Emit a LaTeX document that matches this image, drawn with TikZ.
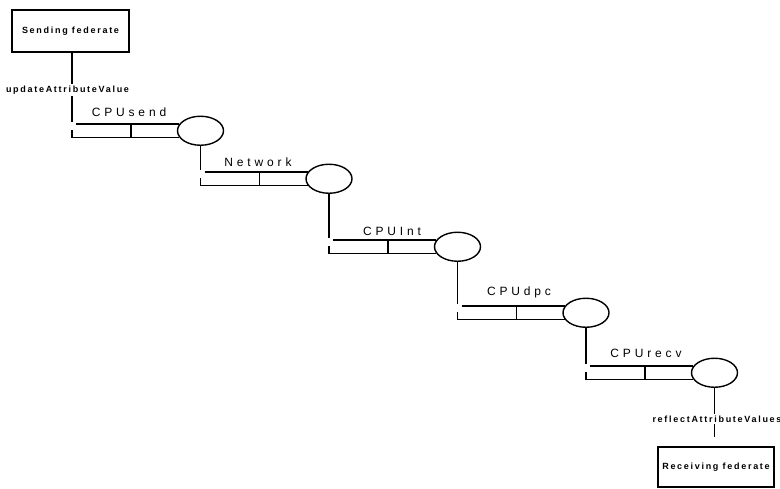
\documentclass[tikz,border=0pt]{standalone}
\usepackage{fontspec}
\setmainfont{Liberation Sans}
\newfontfamily\qlabfam[LetterSpace=32]{Liberation Sans}
\newfontfamily\smallfam[LetterSpace=19]{Liberation Sans}
\newcommand\myqfont{\qlabfam\fontsize{12}{14}\selectfont}
\newcommand\mysmallfont{\smallfam\bfseries\fontsize{9}{11}\selectfont}
\usetikzlibrary{shapes.geometric}
\begin{document}
\begin{tikzpicture}[x=1pt,y=-1pt,line width=1.4pt,
  server/.style={ellipse,draw,minimum width=46pt,minimum height=29pt,inner sep=0pt},
  fed/.style={draw,minimum width=117pt,minimum height=42pt,inner sep=0pt,font=\mysmallfont},
  qlabel/.style={font=\myqfont,inner sep=0pt},
  alabel/.style={font=\mysmallfont,fill=white,inner sep=1.5pt}]
\useasboundingbox (0,0) rectangle (780,488);
% federates
\node[fed] (send) at (70.5,31) {Sending federate};
\node[fed,minimum width=116pt,minimum height=40pt] (recv) at (716,467) {Receiving federate};
% stages
\foreach \i/\x/\t/\lab/\lx/\ly in {1/72/124/CPUsend/129/112, 2/200.5/172/Network/258/162, 3/329/240/CPUInt/392/231, 4/457.5/306/CPUdpc/519/292, 5/586/366/CPUrecv/646/353}{
  \coordinate (a\i) at (\x,\t-2);
  \coordinate (tl\i) at (\x+4,\t);
  \coordinate (ml\i) at (\x,\t+6);
  \coordinate (bl\i) at (\x,\t+13.5);
  \coordinate (dt\i) at (\x+59,\t);
  \coordinate (db\i) at (\x+59,\t+13.5);
  \node[server] (c\i) at (\x+128.5,\t+6.75) {};
  \node[qlabel] (l\i) at (\lx,\ly) {\lab};
  \draw (tl\i) -- (tl\i -| c\i.162);
  \draw (bl\i) -- (bl\i -| c\i.198);
  \draw (ml\i) -- (bl\i);
  \draw (dt\i) -- (db\i);
}
% connectors
\draw (send.south -| a1) -- (a1);
\node[alabel] (upd) at (67.5,90) {updateAttributeValue};
\foreach \i/\j in {1/2,2/3,3/4,4/5}{
  \draw (c\i.south) -- (c\i.south |- a\j);
}
\coordinate (rend) at (714.5,437);
\draw (c5.south) -- (rend);
\node[alabel] (refl) at (717,419) {reflectAttributeValues};
\end{tikzpicture}
\end{document}
